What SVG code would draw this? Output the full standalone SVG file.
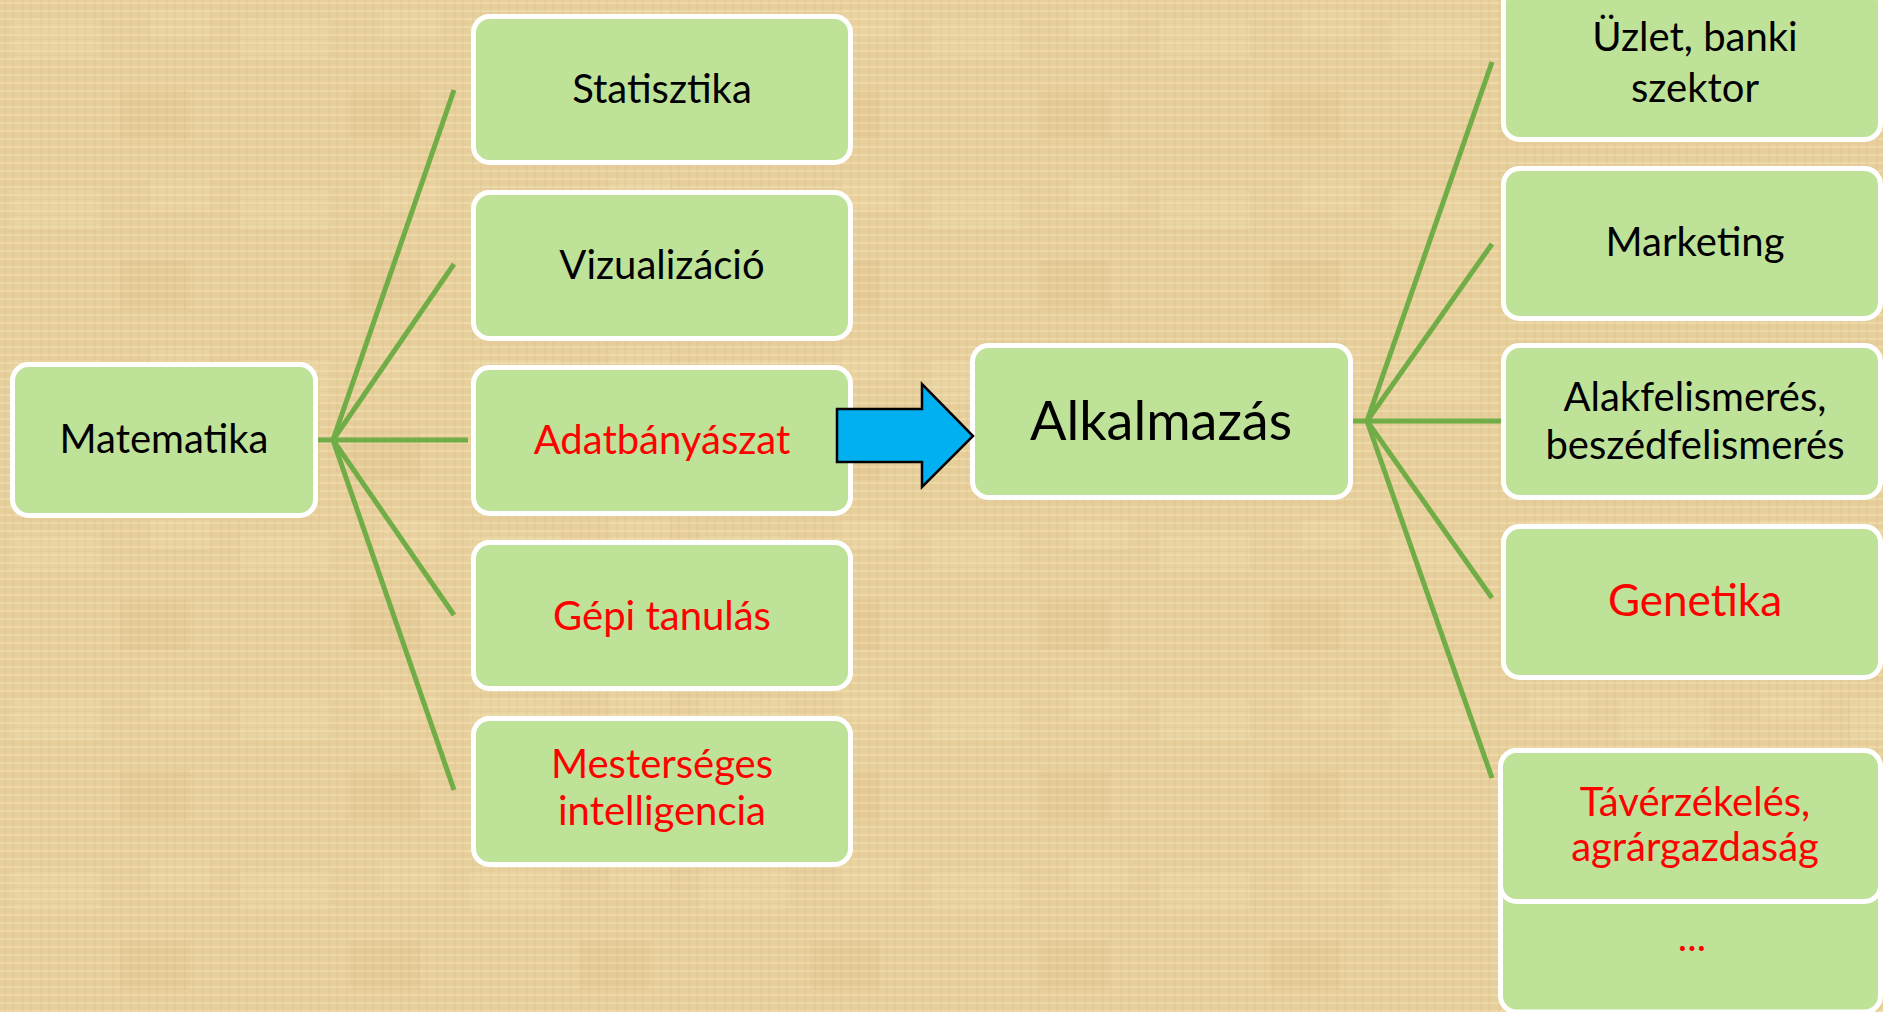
<svg xmlns="http://www.w3.org/2000/svg" width="1883" height="1012" viewBox="0 0 1883 1012">
<defs>
<pattern id="weave" width="18" height="16" patternUnits="userSpaceOnUse">
<rect width="18" height="16" fill="#E7CF9C"/>
<path d="M0 3H18M0 11H18" stroke="#F1DFB2" stroke-width="2" opacity="0.6"/>
<path d="M5 0V16M13 0V16" stroke="#D6B87F" stroke-width="1.5" opacity="0.3"/>
<path d="M0 7H18" stroke="#D2B27A" stroke-width="1" opacity="0.25"/>
</pattern>
<pattern id="blotch" width="230" height="170" patternUnits="userSpaceOnUse">
<rect x="10" y="20" width="90" height="40" fill="#F3E3B8" opacity="0.18"/>
<rect x="120" y="90" width="70" height="50" fill="#D4B072" opacity="0.12"/>
<rect x="150" y="10" width="60" height="30" fill="#F5E5BA" opacity="0.15"/>
</pattern>
</defs>
<style>
.box{fill:#BFE299;stroke:#FFFFFF;stroke-width:5}
.t{font-family:Lato,"Open Sans",sans-serif;font-size:40px;text-anchor:middle;fill:#000000}
.red{fill:#FF0000}
.con{stroke:#70AD47;stroke-width:5;fill:none;stroke-linecap:butt}
</style>
<rect width="1883" height="1012" fill="url(#weave)"/>
<rect width="1883" height="1012" fill="url(#blotch)"/>

<g id="connectors">
<path class="con" d="M318 440H468"/>
<path class="con" d="M333 440L454 90"/>
<path class="con" d="M333 440L454 264"/>
<path class="con" d="M333 440L454 615"/>
<path class="con" d="M333 440L454 790"/>
<path class="con" d="M1353 421H1501"/>
<path class="con" d="M1367 421L1492 62"/>
<path class="con" d="M1367 421L1492 244"/>
<path class="con" d="M1367 421L1492 598"/>
<path class="con" d="M1367 421L1492 778"/>
</g>

<g id="matematika">
<rect class="box" x="12.5" y="364.5" width="303" height="151" rx="16"/>
<text class="t" x="164" y="453">Matematika</text>
</g>
<g id="statisztika">
<rect class="box" x="473.5" y="16.5" width="377" height="146" rx="16"/>
<text class="t" x="662" y="103">Statisztika</text>
</g>
<g id="vizualizacio">
<rect class="box" x="473.5" y="192.5" width="377" height="146" rx="16"/>
<text class="t" x="662" y="279">Vizualizáció</text>
</g>
<g id="adatbanyaszat">
<rect class="box" x="473.5" y="367.5" width="377" height="146" rx="16"/>
<text class="t red" x="662" y="454">Adatbányászat</text>
</g>
<g id="gepi">
<rect class="box" x="473.5" y="542.5" width="377" height="146" rx="16"/>
<text class="t red" x="662" y="630">Gépi tanulás</text>
</g>
<g id="mesterseges">
<rect class="box" x="473.5" y="718.5" width="377" height="146" rx="16"/>
<text class="t red" x="662" y="778">Mesterséges</text>
<text class="t red" x="662" y="825">intelligencia</text>
</g>
<g id="alkalmazas">
<rect class="box" x="972.5" y="345.5" width="378" height="152" rx="16"/>
<text class="t" x="1161" y="440" style="font-size:54px">Alkalmazás</text>
</g>
<g id="uzlet">
<rect class="box" x="1503.5" y="-12.5" width="377" height="152" rx="16"/>
<text class="t" x="1695" y="51">Üzlet, banki</text>
<text class="t" x="1695" y="102">szektor</text>
</g>
<g id="marketing">
<rect class="box" x="1503.5" y="168.5" width="377" height="150" rx="16"/>
<text class="t" x="1695" y="256">Marketing</text>
</g>
<g id="alakfelismeres">
<rect class="box" x="1503.5" y="345.5" width="377" height="152" rx="16"/>
<text class="t" x="1695" y="411">Alakfelismerés,</text>
<text class="t" x="1695" y="459">beszédfelismerés</text>
</g>
<g id="genetika">
<rect class="box" x="1503.5" y="526.5" width="377" height="151" rx="16"/>
<text class="t red" x="1695" y="616" style="font-size:44px">Genetika</text>
</g>
<g id="etc">
<rect class="box" x="1500.5" y="870" width="380" height="142" rx="16"/>
<text class="t red" x="1692" y="951" style="font-size:40px">...</text>
</g>
<g id="taverzekeles">
<rect class="box" x="1500.5" y="750.5" width="380" height="151" rx="16"/>
<text class="t red" x="1695" y="816">Távérzékelés,</text>
<text class="t red" x="1695" y="861">agrárgazdaság</text>
</g>
<g id="arrow">
<polygon points="837,409 922,409 922,384 973,436 922,487 922,462 837,462" fill="#00B0F0" stroke="#000000" stroke-width="2.5" stroke-linejoin="miter"/>
</g>
</svg>
